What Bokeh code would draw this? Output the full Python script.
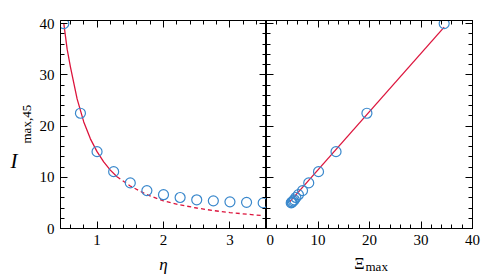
import math
from bokeh.plotting import figure
from bokeh.models import Range1d, LinearAxis, SingleIntervalTicker, Label
from bokeh.layouts import row
from bokeh.embed import file_html
from bokeh.resources import INLINE

# ---- data ----
eta = [0.5, 0.75, 1.0, 1.25, 1.5, 1.75, 2.0, 2.25, 2.5, 2.75, 3.0, 3.25, 3.5]
imax45 = [40.0, 22.5, 15.0, 11.1, 8.9, 7.4, 6.6, 6.05, 5.6, 5.4, 5.2, 5.1, 5.0]
xi_max = [34.5, 19.5, 13.5, 10.1, 8.2, 7.0, 6.2, 5.7, 5.4, 5.2, 5.0, 4.9, 4.8]

fit_eta_solid = [0.5, 0.55, 0.6, 0.7, 0.8, 0.9, 1.0, 1.1, 1.2, 1.3]
fit_i_solid = [40.0, 35.0, 31.5, 25.3, 20.8, 17.5, 15.0, 13.0, 11.4, 10.1]
fit_eta_dash = [1.3, 1.5, 1.75, 2.0, 2.25, 2.5, 2.75, 3.0, 3.25, 3.5]
fit_i_dash = [10.1, 8.3, 6.6, 5.4, 4.6, 4.0, 3.5, 3.1, 2.8, 2.5]

line_xi = [4.5, 34.5]
line_i = [5.2, 39.3]

FONT = "'Liberation Serif', 'Times New Roman', serif"
RED = "#dc143c"
BLUE = "#3a88cc"

FW, FH = 206, 208
TOP, BOT = 20, 46
LEFT = 60
RIGHT_PAD = 16


def style_axis(ax, interval, show_labels):
    ax.ticker = SingleIntervalTicker(interval=interval, num_minor_ticks=5)
    ax.axis_line_color = "black"
    ax.axis_line_width = 1
    ax.major_tick_in = 7
    ax.major_tick_out = 0
    ax.minor_tick_in = 4
    ax.minor_tick_out = 0
    ax.major_tick_line_color = "black"
    ax.minor_tick_line_color = "black"
    ax.major_label_text_font = FONT
    ax.major_label_text_font_size = "15px"
    ax.major_label_text_color = "black" if show_labels else None
    ax.major_label_standoff = 6 if show_labels else 0


def make_fig(xr, left, right):
    p = figure(x_range=xr, y_range=Range1d(0, 40.6),
               frame_width=FW, frame_height=FH,
               min_border_left=left, min_border_right=right,
               min_border_top=TOP, min_border_bottom=BOT,
               output_backend="svg", toolbar_location=None,
               x_axis_location=None, y_axis_location=None)
    p.grid.visible = False
    p.outline_line_color = "black"
    p.outline_line_width = 1
    return p


# ---------- left panel ----------
p1 = make_fig(Range1d(0.45, 3.55), LEFT, 0)
xb = LinearAxis(); style_axis(xb, 1, True); p1.add_layout(xb, "below")
xt = LinearAxis(); style_axis(xt, 1, False); p1.add_layout(xt, "above")
yl = LinearAxis(); style_axis(yl, 10, True); p1.add_layout(yl, "left")
yr = LinearAxis(); style_axis(yr, 10, False); p1.add_layout(yr, "right")

p1.line(fit_eta_solid, fit_i_solid, line_color=RED, line_width=1.3)
p1.line(fit_eta_dash, fit_i_dash, line_color=RED, line_width=1.3, line_dash="4 3")
p1.scatter(eta, imax45, marker="circle", size=10, fill_color=None,
           line_color=BLUE, line_width=1.2)

p1.add_layout(Label(x=2.0, y=0, y_offset=-36, text="η", text_font=FONT,
                    text_font_style="italic", text_font_size="17px",
                    text_align="center", text_baseline="alphabetic",
                    text_color="black"), "below")

# y axis title: italic I with the subscript running upward
p1.add_layout(Label(x=0.45, y=0, x_offset=-50, y_offset=68, text="I", text_font=FONT,
                    text_font_style="italic", text_font_size="21px",
                    text_align="left", text_baseline="alphabetic",
                    text_color="black"), "left")
p1.add_layout(Label(x=0.45, y=0, x_offset=-34, y_offset=85, angle=math.pi / 2,
                    text="max,45", text_font=FONT, text_font_size="13px",
                    text_align="left", text_baseline="alphabetic",
                    text_color="black"), "left")

# ---------- right panel ----------
p2 = make_fig(Range1d(0, 40), 0, RIGHT_PAD)
xb2 = LinearAxis(); style_axis(xb2, 10, True); p2.add_layout(xb2, "below")
xt2 = LinearAxis(); style_axis(xt2, 10, False); p2.add_layout(xt2, "above")
yl2 = LinearAxis(); style_axis(yl2, 10, False); p2.add_layout(yl2, "left")
yr2 = LinearAxis(); style_axis(yr2, 10, False); p2.add_layout(yr2, "right")

p2.line(line_xi, line_i, line_color=RED, line_width=1.3)
p2.scatter(xi_max, imax45, marker="circle", size=10, fill_color=None,
           line_color=BLUE, line_width=1.2)

p2.add_layout(Label(x=20, y=0, x_offset=-5, y_offset=-35, text="Ξ", text_font=FONT,
                    text_font_size="16px", text_align="right",
                    text_baseline="alphabetic", text_color="black"), "below")
p2.add_layout(Label(x=20, y=0, x_offset=-4, y_offset=-38, text="max", text_font=FONT,
                    text_font_size="13px", text_align="left",
                    text_baseline="alphabetic", text_color="black"), "below")

layout = row(p1, p2)
open("out.html", "w").write(file_html(layout, INLINE))
